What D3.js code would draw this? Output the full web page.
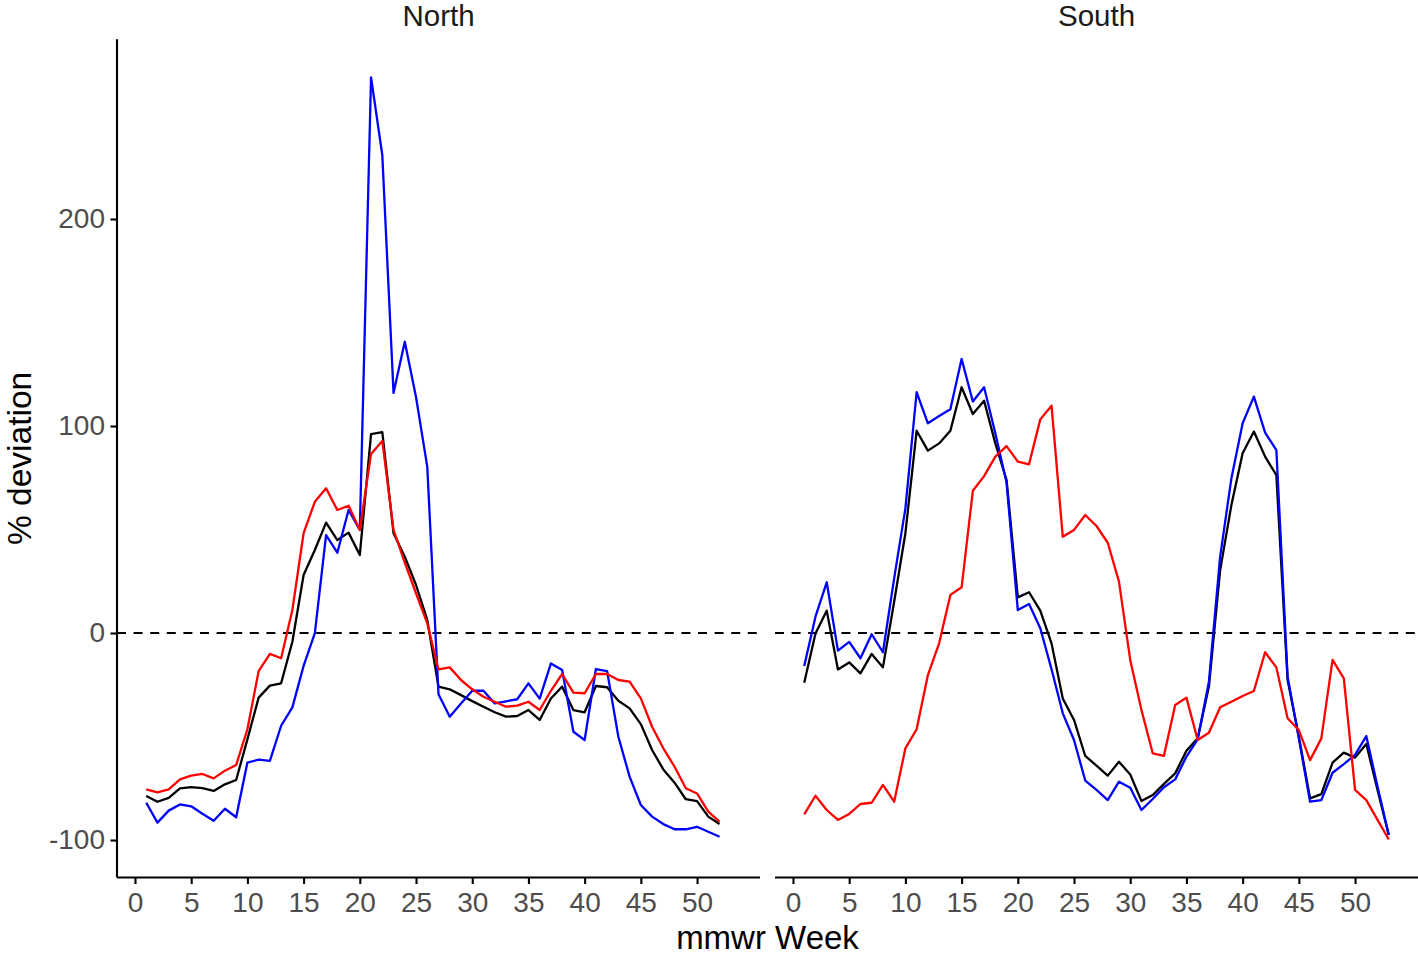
<!DOCTYPE html>
<html>
<head>
<meta charset="utf-8">
<script src="https://cdn.jsdelivr.net/npm/d3@7"></script>
<style>
  html, body { margin: 0; padding: 0; background: #fff; }
  svg { display: block; font-family: "Liberation Sans", Arial, Helvetica, sans-serif; }
</style>
</head>
<body>
<svg id="chart" width="1418" height="956"></svg>
<script>
// ---- Data ----
const facets = ["North", "South"];

const weeksNorth = [1,2,3,4,5,6,7,8,9,10,11,12,13,14,15,16,17,18,19,20,21,22,23,24,25,26,
  27,28,29,30,31,32,33,34,35,36,37,38,39,40,41,42,43,44,45,46,47,48,49,50,51,52];
const weeksSouth = [1,2,3,4,5,6,7,8,9,10,11,12,13,14,15,16,17,18,19,20,21,22,23,24,25,26,
  27,28,29,30,31,32,33,34,35,36,37,38,39,40,41,42,43,44,45,46,47,48,49,50,51,52,53];

const northBlack = [-78.7,-81.5,-79.6,-75.0,-74.4,-74.9,-76.3,-73.1,-71.0,-51.4,-31.2,-25.4,-24.3,-4.2,28.0,40.1,
  53.3,44.9,48.5,37.7,96.1,97.0,48.2,36.9,23.2,6.3,-25.9,-27.2,-30.0,-32.9,-35.6,-38.3,-40.4,-40.1,-37.2,-42.0,
  -31.6,-25.9,-37.2,-38.3,-25.6,-26.2,-32.7,-36.4,-44.0,-56.5,-65.9,-72.3,-80.3,-81.2,-88.7,-92.3];
const northBlue = [-82.0,-91.6,-85.8,-82.8,-83.7,-87.3,-90.7,-84.9,-89.0,-62.6,-61.2,-61.8,-44.8,-35.9,-15.9,0.0,
  47.3,38.8,59.4,49.8,268.4,230.9,116.0,140.7,114.0,80.4,-29.6,-40.4,-34.1,-27.9,-27.9,-34.0,-33.0,-32.0,-24.3,-31.7,
  -14.7,-17.9,-47.7,-51.7,-17.4,-18.4,-50.1,-69.4,-83.1,-88.7,-92.3,-94.8,-94.8,-93.6,-96.0,-98.4];
const northRed = [-75.5,-77.0,-75.5,-70.7,-68.9,-68.1,-70.2,-66.5,-63.8,-46.5,-18.4,-10.1,-12.2,11.1,48.2,63.4,
  69.9,59.4,61.5,49.8,86.5,92.8,49.8,34.0,19.2,4.7,-17.6,-16.6,-22.7,-27.2,-30.8,-33.2,-35.6,-35.1,-33.2,-37.2,
  -27.9,-19.8,-28.8,-29.1,-19.8,-19.8,-22.7,-23.5,-31.6,-45.3,-55.7,-64.6,-75.0,-77.5,-86.3,-91.1];

const southBlack = [-24.0,-0.2,10.8,-17.6,-14.2,-19.5,-10.1,-16.6,15.1,48.2,97.7,88.1,91.6,97.7,118.7,105.8,
  112.2,91.6,73.9,17.2,19.7,10.8,-5.0,-31.6,-42.0,-59.4,-64.1,-68.9,-62.2,-68.3,-81.2,-78.3,-72.9,-67.8,-56.9,-50.9,
  -25.9,30.4,61.8,86.8,97.3,85.2,76.3,-22.7,-50.0,-79.9,-77.8,-62.6,-57.8,-60.2,-53.6,-75.8,-97.6];
const southBlue = [-15.9,7.9,24.5,-8.5,-4.3,-12.2,-0.6,-9.3,26.4,60.2,116.3,101.3,104.8,108.1,132.4,111.8,
  118.7,96.5,72.6,11.1,14.0,2.3,-17.5,-38.8,-51.7,-71.3,-75.8,-80.7,-71.8,-74.7,-85.5,-80.2,-74.5,-70.7,-59.7,-51.4,
  -23.5,36.9,74.7,101.3,114.2,96.8,88.4,-21.1,-50.9,-81.5,-80.7,-67.5,-63.3,-58.9,-49.8,-74.2,-97.6];
const southRed = [-87.6,-78.6,-85.5,-90.3,-87.4,-82.6,-82.0,-73.4,-81.5,-55.7,-46.5,-20.3,-5.0,18.4,22.1,68.7,
  75.8,85.2,90.3,82.8,81.5,103.2,109.8,46.5,49.8,57.0,51.7,43.6,24.8,-13.0,-37.2,-58.1,-59.3,-34.8,-31.2,-51.7,
  -48.2,-35.9,-33.2,-30.4,-28.0,-9.3,-16.6,-41.2,-46.9,-61.4,-50.9,-13.0,-21.9,-75.8,-80.7,-90.3,-99.7];

const xTicks = [0,5,10,15,20,25,30,35,40,45,50];
const yTicks = [-100,0,100,200];
const xTitle = "mmwr Week";
const yTitle = "% deviation";
const refValue = 0;

// series per facet (drawing order: black, blue, red)
const panelData = {
  North: { weeks: weeksNorth, series: [
    { name: "black", color: "#000000", values: northBlack },
    { name: "blue",  color: "#0000FF", values: northBlue },
    { name: "red",   color: "#FF0000", values: northRed } ] },
  South: { weeks: weeksSouth, series: [
    { name: "black", color: "#000000", values: southBlack },
    { name: "blue",  color: "#0000FF", values: southBlue },
    { name: "red",   color: "#FF0000", values: southRed } ] }
};

// ---- Layout ----
const svg = d3.select("#chart");
const panelTop = 39.3, panelBottom = 877.5;
const panelRanges = { North: [117, 760], South: [775, 1418] };

// shared scales (ggplot-like 5% expansion)
const allX = weeksNorth.concat(weeksSouth);
const allY = [].concat(northBlack, northBlue, northRed, southBlack, southBlue, southRed);
const xExt = d3.extent(allX), yExt = d3.extent(allY);
const xPad = (xExt[1] - xExt[0]) * 0.05, yPad = (yExt[1] - yExt[0]) * 0.05;
const xDomain = [xExt[0] - xPad, xExt[1] + xPad];
const yDomain = [yExt[0] - yPad, yExt[1] + yPad];

const y = d3.scaleLinear().domain(yDomain).range([panelBottom, panelTop]);
const plainFmt = d => String(d);

facets.forEach((f, i) => {
  const x = d3.scaleLinear().domain(xDomain).range(panelRanges[f]);
  const g = svg.append("g");

  // strip label
  g.append("text")
    .attr("x", (panelRanges[f][0] + panelRanges[f][1]) / 2)
    .attr("y", 26)
    .attr("text-anchor", "middle")
    .attr("font-size", 29.5)
    .attr("fill", "#1a1a1a")
    .text(f);

  // reference dashed line
  g.append("line")
    .attr("x1", panelRanges[f][0]).attr("x2", panelRanges[f][1])
    .attr("y1", y(refValue)).attr("y2", y(refValue))
    .attr("stroke", "#000").attr("stroke-width", 2.1)
    .attr("stroke-dasharray", "9,7.6");

  // lines
  const pd = panelData[f];
  pd.series.forEach(s => {
    const line = d3.line()
      .x((d, j) => x(pd.weeks[j]))
      .y(d => y(d));
    g.append("path")
      .datum(s.values)
      .attr("fill", "none")
      .attr("stroke", s.color)
      .attr("stroke-width", 2.3)
      .attr("stroke-linejoin", "round")
      .attr("d", line);
  });

  // x axis
  const xAxis = d3.axisBottom(x).tickValues(xTicks).tickFormat(plainFmt).tickSize(6.5).tickPadding(8);
  const xa = g.append("g").attr("transform", `translate(0,${panelBottom})`).call(xAxis);
  xa.select(".domain").attr("stroke", "#000").attr("stroke-width", 2.1)
    .attr("d", `M${panelRanges[f][0]},0H${panelRanges[f][1]}`);
  xa.selectAll(".tick line").attr("stroke", "#000").attr("stroke-width", 2.1);
  xa.selectAll(".tick text").attr("font-size", 28).attr("fill", "#4d4d4d")
    .attr("font-family", "Liberation Sans, Arial, sans-serif");

  // y axis only on first panel
  if (i === 0) {
    const yAxis = d3.axisLeft(y).tickValues(yTicks).tickFormat(plainFmt).tickSize(6.5).tickPadding(5.5);
    const ya = g.append("g").attr("transform", `translate(${panelRanges[f][0]},0)`).call(yAxis);
    ya.select(".domain").attr("stroke", "#000").attr("stroke-width", 2.1)
      .attr("d", `M0,${panelTop}V${panelBottom}`);
    ya.selectAll(".tick line").attr("stroke", "#000").attr("stroke-width", 2.1);
    ya.selectAll(".tick text").attr("font-size", 28).attr("fill", "#4d4d4d")
      .attr("font-family", "Liberation Sans, Arial, sans-serif");
  }
});

// axis titles
svg.append("text")
  .attr("x", (117 + 1418) / 2)
  .attr("y", 948.5)
  .attr("text-anchor", "middle")
  .attr("font-size", 33)
  .attr("fill", "#000")
  .text(xTitle);

svg.append("text")
  .attr("transform", `translate(31,${(panelTop + panelBottom) / 2}) rotate(-90)`)
  .attr("text-anchor", "middle")
  .attr("font-size", 33.5)
  .attr("fill", "#000")
  .text(yTitle);
</script>
</body>
</html>
